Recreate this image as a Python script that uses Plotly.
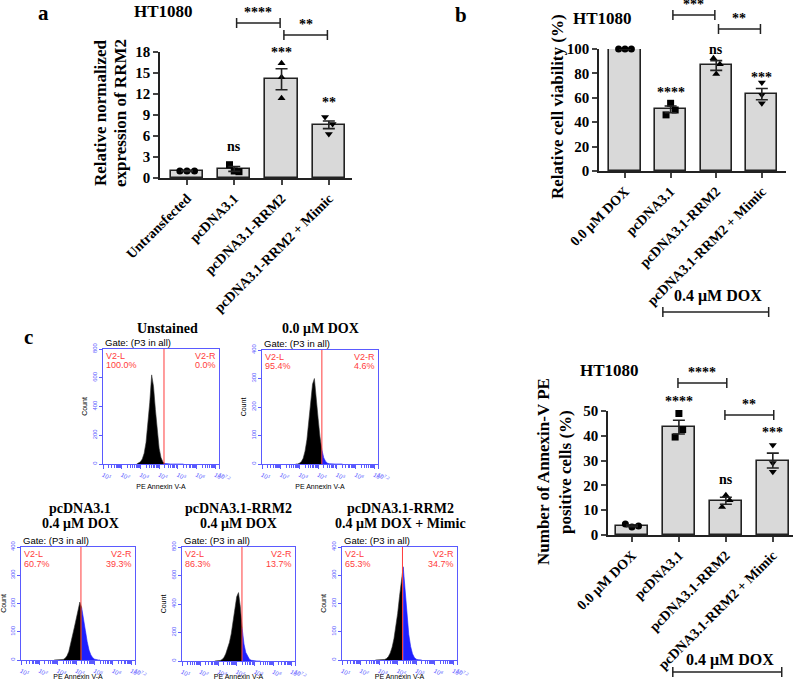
import numpy as np
import plotly.graph_objects as go

W, H = 797, 680
SERIF = "Liberation Serif"
SANS = "Liberation Sans"
FLOW_BLUE = "#5a5aff"
GATE_RED = "#ff3c3c"
BAR_FILL = "#d9d9d9"

# ---------------- data ----------------
a_groups = ["Untransfected", "pcDNA3.1", "pcDNA3.1-RRM2", "pcDNA3.1-RRM2 + Mimic"]
a_means = [1.0, 1.3, 14.1, 7.6]
a_sem = [0.05, 0.35, 1.5, 0.55]
a_points = [[1.0, 1.0, 1.0], [1.9, 0.9, 1.0], [16.4, 14.4, 11.4], [8.7, 7.7, 6.3]]
a_sig = ["", "ns", "***", "**"]
a_pairs = [("****", 1, 2), ("**", 2, 3)]

b_groups = ["0.0 μM DOX", "pcDNA3.1", "pcDNA3.1-RRM2", "pcDNA3.1-RRM2 + Mimic"]
b_means = [100.0, 50.5, 86.5, 63.0]
b_sem = [0.0, 2.8, 4.0, 4.6]
b_points = [[100, 100, 100], [55.5, 50.0, 46.0], [92.5, 87.5, 79.5], [72.5, 62.5, 55.5]]
b_sig = ["", "****", "ns", "***"]
b_pairs = [("***", 1, 2), ("**", 2, 3)]

c_groups = ["0.0 μM DOX", "pcDNA3.1", "pcDNA3.1-RRM2", "pcDNA3.1-RRM2 + Mimic"]
c_means = [3.7, 43.5, 13.8, 30.0]
c_sem = [0.35, 2.8, 1.4, 3.0]
c_points = [[4.4, 3.2, 3.6], [49.0, 42.5, 39.5], [16.0, 14.0, 11.3], [36.3, 29.0, 25.5]]
c_sig = ["", "****", "ns", "***"]
c_pairs = [("****", 1, 2), ("**", 2, 3)]

# flow cytometry histograms (bin centres in log10 units of PE Annexin V-A)
hist_bins = [2.8, 2.9, 3.0, 3.1, 3.2, 3.3, 3.4, 3.5, 3.6, 3.7, 3.8, 3.9, 4.0,
             4.1, 4.2, 4.3, 4.4, 4.5, 4.6, 4.7, 4.8, 4.9, 5.0, 5.1, 5.2, 5.3]
hist_unstained = [0, 5, 15, 35, 75, 150, 270, 430, 620, 540, 380, 220, 110,
                  45, 15, 4, 1, 0, 0, 0, 0, 0, 0, 0, 0, 0]
hist_dox0 = [0, 0, 3, 8, 20, 45, 85, 145, 215, 280, 300, 240, 160,
             95, 50, 22, 9, 3, 1, 0, 0, 0, 0, 0, 0, 0]
hist_pcdna = [0, 0, 0, 0, 0, 2, 6, 15, 30, 55, 85, 115, 145,
              180, 205, 185, 150, 105, 65, 35, 18, 8, 3, 1, 0, 0]
hist_rrm2 = [0, 0, 1, 4, 10, 25, 50, 85, 130, 190, 270, 360, 450,
             480, 380, 230, 120, 60, 30, 12, 5, 2, 0, 0, 0, 0]
hist_mimic = [0, 0, 0, 0, 0, 2, 5, 12, 25, 45, 75, 115, 165,
              225, 290, 330, 250, 160, 90, 48, 22, 9, 3, 1, 0, 0]
hist_series = [hist_unstained, hist_dox0, hist_pcdna, hist_rrm2, hist_mimic]
hist_gates = [4.26, 4.2, 4.26, 4.29, 4.26]
hist_ymax = [800, 400, 400, 800, 400]
hist_titles = [["Unstained"], ["0.0 μM DOX"], ["pcDNA3.1", "0.4 μM DOX"],
               ["pcDNA3.1-RRM2", "0.4 μM DOX"], ["pcDNA3.1-RRM2", "0.4 μM DOX + Mimic"]]
hist_left_pct = ["100.0%", "95.4%", "60.7%", "86.3%", "65.3%"]
hist_right_pct = ["0.0%", "4.6%", "39.3%", "13.7%", "34.7%"]
flow_ticks = [1, 2, 3, 4, 5, 6, 7, 7.2]
flow_ticktext = ["10<sup>1</sup>", "10<sup>2</sup>", "10<sup>3</sup>", "10<sup>4</sup>",
                 "10<sup>5</sup>", "10<sup>6</sup>", "10<sup>7</sup>", "10<sup>7.2</sup>"]

# ---------------- layout helpers (pixel -> paper) ----------------
def xd(p0, p1):
    return [p0 / W, p1 / W]

def yd(top, bottom):
    return [1 - bottom / H, 1 - top / H]

def px(x):
    return x / W

def py(y):
    return 1 - y / H

def ptext(x, y, text, size, family=SERIF, color="black", angle=0):
    return dict(x=px(x), y=py(y), xref="paper", yref="paper", xanchor="center",
                yanchor="middle", showarrow=False, text=text, textangle=angle,
                font=dict(family=family, size=size, color=color))

MARKERS = ["circle", "square", "triangle-up", "triangle-down"]
JITTER = {
    "a": [[-0.15, 0.0, 0.16], [-0.1, 0.1, 0.0], [0.0, 0.0, 0.0], [-0.08, 0.08, 0.0]],
    "b": [[-0.14, 0.0, 0.14], [0.0, 0.1, -0.1], [-0.06, 0.08, 0.0], [0.0, 0.0, 0.0]],
    "c": [[-0.14, 0.0, 0.14], [0.0, 0.08, -0.08], [0.0, 0.08, -0.08], [0.0, 0.0, 0.0]],
}

fig = go.Figure()
annotations = []
shapes = []

bar_panels = [
    ("a", "", a_groups, a_means, a_sem, a_points, a_sig, a_pairs,
     xd(160, 352), yd(52, 178), [-0.57, 3.49], [0, 18], 3,
     [None, 146, 53, 102], [23, 35], (163, 11)),
    ("b", "2", b_groups, b_means, b_sem, b_points, b_sig, b_pairs,
     xd(599, 786), yd(49, 171), [-0.57, 3.53], [0, 100], 20,
     [None, 93, 50, 77], [15, 29], (602, 18)),
    ("c", "3", c_groups, c_means, c_sem, c_points, c_sig, c_pairs,
     xd(608, 793), yd(411, 535), [-0.51, 3.43], [0, 50], 10,
     [None, 401, 479, 432], [383, 415], (609, 371)),
]

for (key, suf, groups, means, sem, points, sig, pairs, xdom, ydom, xr, yr, dt,
     sig_py, pair_py, title_xy) in bar_panels:
    xa = "x" + suf
    ya = "y" + suf
    idx = list(range(len(groups)))
    fig.add_trace(go.Bar(
        x=idx, y=means, width=0.68, xaxis=xa, yaxis=ya,
        marker=dict(color=BAR_FILL, line=dict(color="#222222", width=1.6)),
        showlegend=False, hoverinfo="skip"))
    for g in idx:
        fig.add_trace(go.Scatter(
            x=[g + j for j in JITTER[key][g]], y=points[g], mode="markers",
            xaxis=xa, yaxis=ya, cliponaxis=False, showlegend=False,
            marker=dict(symbol=MARKERS[g], color="black", size=7)))
    fig.add_trace(go.Scatter(
        x=idx, y=means, mode="markers", xaxis=xa, yaxis=ya, showlegend=False,
        marker=dict(size=0.1, color="rgba(0,0,0,0)"), cliponaxis=False,
        error_y=dict(type="data", array=sem, color="#222222", thickness=1.6, width=6)))
    lay_x = dict(domain=xdom, range=xr, anchor=ya, tickvals=idx, ticktext=groups,
                 tickangle=-45, ticks="outside", ticklen=5, tickwidth=1.5, automargin=False,
                 showline=True, linecolor="#222222", linewidth=1.6, showgrid=False,
                 zeroline=False,
                 tickfont=dict(family=SERIF, size=14, color="black", weight="bold"))
    lay_y = dict(domain=ydom, range=yr, anchor=xa, dtick=dt, tick0=0, automargin=False,
                 ticks="outside", ticklen=5, tickwidth=1.5,
                 showline=True, linecolor="#222222", linewidth=1.6, showgrid=False,
                 zeroline=False,
                 tickfont=dict(family=SERIF, size=15, color="black", weight="bold"))
    fig.update_layout(**{"xaxis" + suf: lay_x, "yaxis" + suf: lay_y})
    for g in idx:
        if sig[g]:
            annotations.append(dict(x=g, xref=xa, y=py(sig_py[g]), yref="paper",
                                    xanchor="center", yanchor="middle",
                                    text="<b>%s</b>" % sig[g], showarrow=False,
                                    font=dict(family=SERIF, size=14, color="black")))
    for (lab, g0, g1), ypx in zip(pairs, pair_py):
        x0, x1 = g0 + 0.05, g1 - 0.03
        if key == "c":
            x0, x1 = g0 - 0.02, g1 + 0.02
        shapes.append(dict(type="line", xref=xa, yref="paper", x0=x0, x1=x1,
                           y0=py(ypx), y1=py(ypx), line=dict(color="#222222", width=1.5)))
        for xe in (x0, x1):
            shapes.append(dict(type="line", xref=xa, yref="paper", x0=xe, x1=xe,
                               y0=py(ypx - 5), y1=py(ypx + 5),
                               line=dict(color="#222222", width=1.5)))
        annotations.append(dict(x=(x0 + x1) / 2, xref=xa, y=py(ypx - 1), yref="paper",
                                xanchor="center", yanchor="bottom",
                                text="<b>%s</b>" % lab, showarrow=False,
                                font=dict(family=SERIF, size=14, color="black")))
    annotations.append(ptext(title_xy[0], title_xy[1], "<b>HT1080</b>", 17))

annotations += [
    ptext(101, 113, "<b>Relative normalized</b>", 17, angle=-90),
    ptext(121, 113, "<b>expression of RRM2</b>", 17, angle=-90),
    ptext(557, 107, "<b>Relative cell viability (%)</b>", 17, angle=-90),
    ptext(543, 472, "<b>Number of Annexin-V PE</b>", 17, angle=-90),
    ptext(565, 472, "<b>positive cells (%)</b>", 17, angle=-90),
]

for xa, x0, x1, ytxt, yline in [("x2", 0.83, 3.15, 296, 312), ("x3", 0.87, 3.19, 660, 672)]:
    shapes.append(dict(type="line", xref=xa, yref="paper", x0=x0, x1=x1,
                       y0=py(yline), y1=py(yline), line=dict(color="#222222", width=1.5)))
    for xe in (x0, x1):
        shapes.append(dict(type="line", xref=xa, yref="paper", x0=xe, x1=xe,
                           y0=py(yline - 5), y1=py(yline + 5), line=dict(color="#222222", width=1.5)))
    annotations.append(dict(x=(x0 + x1) / 2 + 0.05, xref=xa, y=py(ytxt), yref="paper",
                            xanchor="center", yanchor="middle",
                            text="<b>0.4 μM DOX</b>", showarrow=False,
                            font=dict(family=SERIF, size=16, color="black")))

for lab, (lx, ly) in zip(["a", "b", "c"], [(43, 13), (461, 15), (28, 337)]):
    annotations.append(ptext(lx, ly, "<b>%s</b>" % lab, 21))

# ---------------- flow histograms ----------------
hist_boxes = [(103, 219, 349, 464), (262, 378, 350, 464),
              (21, 135, 547, 660), (182, 295, 547, 661), (342, 457, 547, 660)]
hist_title_pos = [(167, 328), (320, 328), (80, 508), (238, 508), (400, 508)]

minor_vals = [n + np.log10(k) for n in range(1, 8) for k in range(2, 10) if n + np.log10(k) < 7.2]

for i, (counts, gate, ymax, box) in enumerate(zip(hist_series, hist_gates, hist_ymax, hist_boxes)):
    n = 4 + i
    xa, ya = "x%d" % n, "y%d" % n
    k = next(j for j, b in enumerate(hist_bins) if b >= gate)
    fig.add_trace(go.Scatter(x=hist_bins[:k + 1], y=counts[:k + 1], xaxis=xa, yaxis=ya,
                             mode="lines", fill="tozeroy", fillcolor="black",
                             line=dict(color="#333333", width=0.6), showlegend=False))
    fig.add_trace(go.Scatter(x=hist_bins[k:], y=counts[k:], xaxis=xa, yaxis=ya,
                             mode="lines", fill="tozeroy", fillcolor="#1f1fff",
                             line=dict(color="#1f1fff", width=0.6), showlegend=False))
    x0, x1, y0, y1 = box
    fig.update_layout(**{
        "xaxis%d" % n: dict(domain=xd(x0, x1), range=[1, 7.2], anchor=ya, automargin=False,
                            tickvals=flow_ticks, ticktext=flow_ticktext,
                            ticks="outside", ticklen=4, tickcolor=FLOW_BLUE, tickwidth=1,
                            minor=dict(tickvals=minor_vals, ticks="outside", ticklen=2.5,
                                       tickcolor=FLOW_BLUE, tickwidth=1),
                            showline=True, mirror=True, linecolor=FLOW_BLUE, linewidth=1.2,
                            showgrid=False, zeroline=False,
                            tickfont=dict(family=SANS, size=6, color=FLOW_BLUE),
                            title=dict(text="PE Annexin V-A", standoff=1,
                                       font=dict(family=SANS, size=7, color="black"))),
        "yaxis%d" % n: dict(domain=yd(y0, y1), range=[0, ymax], anchor=xa, automargin=False,
                            dtick=ymax / 4, ticks="outside", ticklen=3,
                            tickcolor=FLOW_BLUE, tickwidth=1, tickangle=-90,
                            showline=True, mirror=True, linecolor=FLOW_BLUE, linewidth=1.2,
                            showgrid=False, zeroline=False,
                            tickfont=dict(family=SANS, size=6, color=FLOW_BLUE),
                            title=dict(text="Count", standoff=3,
                                       font=dict(family=SANS, size=7, color="black"))),
    })
    shapes.append(dict(type="line", xref=xa, yref=ya + " domain", x0=gate, x1=gate, y0=0, y1=1,
                       line=dict(color=GATE_RED, width=1)))
    dom = dict(xref=xa + " domain", yref=ya + " domain", showarrow=False)
    annotations.append(dict(x=0, y=1, xanchor="left", yanchor="bottom", yshift=-1,
                            text="Gate: (P3 in all)",
                            font=dict(family=SANS, size=9.5, color="black"), **dom))
    for line_no, (lt, rt) in enumerate([("V2-L", "V2-R"), (hist_left_pct[i], hist_right_pct[i])]):
        annotations.append(dict(x=0.005, y=1, xanchor="left", yanchor="top", yshift=-line_no * 9.5,
                                text=lt, font=dict(family=SANS, size=9, color=GATE_RED), **dom))
        annotations.append(dict(x=0.995, y=1, xanchor="right", yanchor="top", yshift=-line_no * 9.5,
                                text=rt, font=dict(family=SANS, size=9, color=GATE_RED), **dom))
    tx, ty = hist_title_pos[i]
    for line_no, t in enumerate(hist_titles[i]):
        annotations.append(ptext(tx, ty + 15 * line_no, "<b>%s</b>" % t, 14))

fig.update_layout(
    width=W, height=H, margin=dict(l=0, r=0, t=0, b=0, autoexpand=False),
    paper_bgcolor="white", plot_bgcolor="white",
    barmode="overlay", bargap=0, showlegend=False,
    annotations=annotations, shapes=shapes,
)

fig.write_html("out.html", config={"displayModeBar": False},
               post_script="document.body.style.margin='0px';")
